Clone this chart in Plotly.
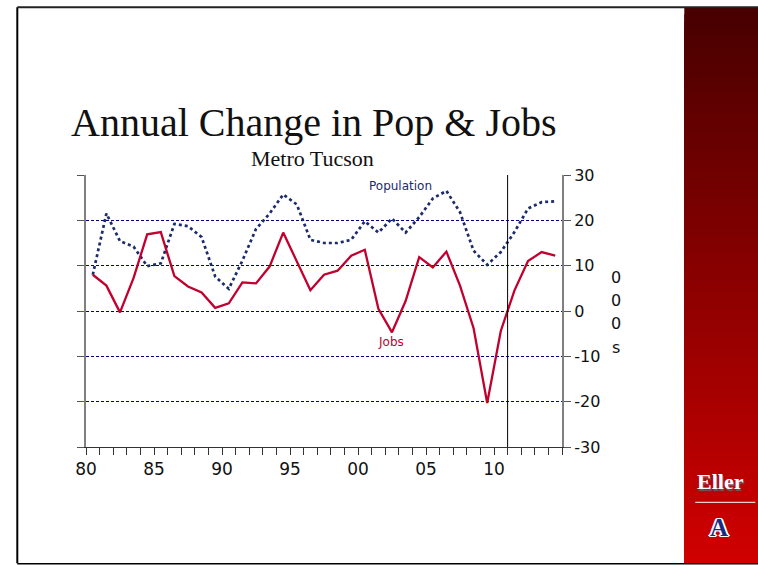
import plotly.graph_objects as go

years = list(range(1980, 2015))
population = [8.0, 21.5, 15.4, 14.2, 9.9, 10.5, 19.2, 18.7, 16.3, 7.6,
              4.9, 11.1, 18.1, 21.5, 25.7, 23.5, 15.7, 15.0, 15.0, 15.7,
              19.8, 17.3, 20.4, 17.3, 20.7, 24.8, 26.5, 21.8, 13.3, 10.2,
              13.0, 17.4, 22.6, 24.0, 24.2]
jobs = [8.0, 5.6, -0.3, 7.3, 16.9, 17.4, 7.7, 5.4, 4.1, 0.7,
        1.7, 6.3, 6.1, 9.8, 17.3, 11.1, 4.6, 8.0, 8.9, 12.2,
        13.5, 0.5, -4.7, 2.2, 11.9, 9.6, 13.1, 5.6, -3.8, -20.3,
        -4.4, 4.5, 11.0, 13.0, 12.2]
x_ticks = [1980, 1985, 1990, 1995, 2000, 2005, 2010]
x_tick_labels = ["80", "85", "90", "95", "00", "05", "10"]
y_ticks = [-30, -20, -10, 0, 10, 20, 30]
y_tick_labels = ["-30", "-20", "-10", "0", "10", "20", "30"]
divider_year = 2011
unit_chars = ["0", "0", "0", "s"]

xmid = [y + 0.5 for y in years]

W, H = 758, 565
PL, PR, PT, PB = 85.7, 561.7, 174.7, 446.7


def px(xp):
    return (xp - PL) / (PR - PL)


def py(yp):
    return (PB - yp) / (PB - PT)


fig = go.Figure()
fig.add_trace(go.Scatter(x=xmid, y=population, mode="lines", name="Population",
                         line=dict(color="#1b2b6b", width=2.7, dash="dot"),
                         showlegend=False))
fig.add_trace(go.Scatter(x=xmid, y=jobs, mode="lines", name="Jobs",
                         line=dict(color="#c0002e", width=2.3),
                         showlegend=False))

shapes = []
# red gradient sidebar (overlapping strips, each running to the bottom)
n = 80
top_c = (0x48, 0x00, 0x00)
bot_c = (0xd0, 0x00, 0x00)
y_top, y_bot = 7, 563
for i in range(n):
    t = i / (n - 1)
    c = tuple(int(round(top_c[k] + (bot_c[k] - top_c[k]) * t)) for k in range(3))
    ya = y_top + (y_bot - y_top) * i / n
    shapes.append(dict(type="rect", xref="paper", yref="paper",
                       x0=px(684), x1=px(760),
                       y0=py(y_bot), y1=py(ya),
                       fillcolor="rgb(%d,%d,%d)" % c, line=dict(width=0)))
# frame lines
shapes.append(dict(type="line", xref="paper", yref="paper", x0=px(17), x1=px(17), y0=py(7), y1=py(563),
                   line=dict(color="black", width=2)))
shapes.append(dict(type="line", xref="paper", yref="paper", x0=px(17), x1=px(760), y0=py(7), y1=py(7),
                   line=dict(color="#222", width=2)))
shapes.append(dict(type="line", xref="paper", yref="paper", x0=px(17), x1=px(760), y0=py(563.5), y1=py(563.5),
                   line=dict(color="black", width=1.5)))
# white line in sidebar logo
shapes.append(dict(type="line", xref="paper", yref="paper", x0=px(695), x1=px(755), y0=py(502), y1=py(502),
                   line=dict(color="white", width=1)))
# vertical divider
shapes.append(dict(type="line", xref="x", yref="y", x0=divider_year, x1=divider_year, y0=-30, y1=30,
                   line=dict(color="black", width=1)))


def ann(text, x, y, size, color, family, xref="paper", yref="paper", shadow=None):
    f = dict(family=family, size=size, color=color)
    if shadow:
        f["shadow"] = shadow
    return dict(text=text, xref=xref, yref=yref, x=x, y=y, showarrow=False,
                xanchor="center", yanchor="middle", font=f)


white_outline = "1px 1px 0 white, -1px -1px 0 white, 1px -1px 0 white, -1px 1px 0 white, 2px 0 0 white, -2px 0 0 white"
annotations = [
    ann("Annual Change in Pop & Jobs", px(314), py(122), 40, "#111", "Liberation Serif"),
    ann("Metro Tucson", px(312), py(158), 22, "#111", "Liberation Serif"),
    ann("Population", 2003.1, 27.6, 12, "#1b2b6b", "DejaVu Sans", "x", "y"),
    ann("Jobs", 2002.4, -6.9, 12, "#c0002e", "DejaVu Sans", "x", "y"),
    ann("<b>Eller</b>", px(720), py(481), 22, "white", "Liberation Serif", shadow="1px 2px 1px #6a5a6a"),
    ann("<b>A</b>", px(719), py(527), 25, "#1b2b80", "Liberation Serif", shadow=white_outline),
]
for k, ch in enumerate(unit_chars):
    annotations.append(ann(ch, px(616), py(277 + 23.3 * k), 16, "#111", "DejaVu Sans"))

fig.update_layout(
    width=W, height=H, autosize=False,
    margin=dict(l=86, r=196, t=175, b=118, pad=0),
    paper_bgcolor="white", plot_bgcolor="white",
    shapes=shapes, annotations=annotations,
    xaxis=dict(range=[1980, 2015], tickvals=x_ticks, ticktext=x_tick_labels,
               ticks="outside", ticklen=7, tickcolor="#333", showgrid=False,
               showline=True, linecolor="#333", linewidth=1, zeroline=False,
               tickfont=dict(family="DejaVu Sans", size=17, color="#111"),
               minor=dict(ticks="outside", ticklen=7, dtick=1, tick0=1980, tickcolor="#333", showgrid=False)),
    yaxis=dict(range=[-30, 30], side="right", tickvals=y_ticks, ticktext=y_tick_labels,
               ticks="outside", ticklen=7, tickcolor="#555", showline=True, linecolor="#808080",
               linewidth=2, mirror="ticks", zeroline=False,
               showgrid=True, gridcolor="#00008b", griddash="3px,2px", gridwidth=1,
               tickfont=dict(family="DejaVu Sans", size=16, color="#111")),
)

fig.write_html("out.html", config={"displayModeBar": False},
               post_script="document.body.style.margin='0px';")
